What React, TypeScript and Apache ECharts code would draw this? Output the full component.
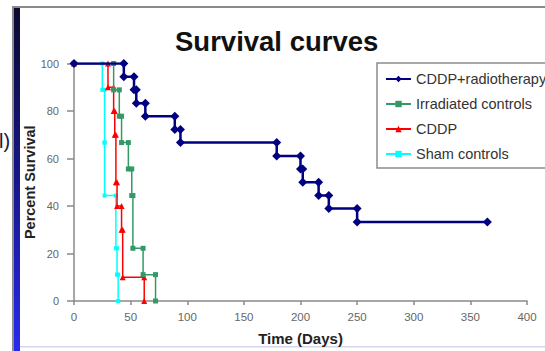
import React, { useEffect, useRef } from "react";
import * as echarts from "echarts";

const chartTitle = "Survival curves";
const xAxisName = "Time (Days)";
const yAxisName = "Percent Survival";
const xTicks = [0, 50, 100, 150, 200, 250, 300, 350, 400];
const yTicks = [0, 20, 40, 60, 80, 100];

const seriesNames = ["CDDP+radiotherapy", "Irradiated controls", "CDDP", "Sham controls"];

// event times (days) and survival (%) after each event
const comboTimes = [44, 53, 55, 63, 89, 94, 179, 200, 202, 216, 225, 250];
const comboSurvival = [94.4, 88.9, 83.3, 77.8, 72.2, 66.7, 61.1, 55.6, 50.0, 44.4, 38.9, 33.3];
const comboLastFollowUp = 365;

const irradTimes = [35, 40, 42, 48, 51, 52, 61, 72];
const irradSurvival = [88.9, 77.8, 66.7, 55.6, 44.4, 22.2, 11.1, 0];

const cddpTimes = [30, 35, 36, 37, 38, 42, 43, 62];
const cddpSurvival = [90, 80, 70, 50, 40, 30, 10, 0];

const shamTimes = [25, 27, 27, 37, 38, 39];
const shamSurvival = [88.9, 66.7, 44.4, 22.2, 11.1, 0];

function steps(times: number[], surv: number[], end?: number) {
  const pts: number[][] = [[0, 100]];
  let prev = 100;
  times.forEach((t, i) => {
    pts.push([t, prev]);
    pts.push([t, surv[i]]);
    prev = surv[i];
  });
  if (end != null) pts.push([end, prev]);
  return pts;
}

const FONT = "'Liberation Sans', Arial, sans-serif";

export default function App() {
  const ref = useRef<HTMLDivElement>(null);
  useEffect(() => {
    if (!ref.current) return;
    const chart = echarts.init(ref.current, undefined, { renderer: "svg" });
    const mk = (name: string, data: number[][], color: string, width: number, symbol: string, size: number, z: number) => ({
      name,
      type: "line",
      data,
      symbol,
      symbolSize: size,
      showAllSymbol: true,
      z,
      lineStyle: { color, width },
      itemStyle: { color },
      emphasis: { disabled: true },
    });
    chart.setOption({
      animation: false,
      backgroundColor: "#ffffff",
      textStyle: { fontFamily: FONT },
      title: {
        text: chartTitle,
        left: 170,
        top: 22,
        textStyle: { fontFamily: FONT, fontSize: 27.5, fontWeight: "bold", color: "#111" },
      },
      grid: { left: 74, right: 18, top: 63.5, bottom: 49 },
      legend: {
        orient: "vertical",
        left: 377,
        top: 63,
        padding: [8, 40, 6, 8],
        itemWidth: 25,
        itemHeight: 8,
        itemGap: 9,
        borderColor: "#8c8c8c",
        borderWidth: 1.5,
        backgroundColor: "#ffffff",
        selectedMode: false,
        textStyle: { fontFamily: FONT, fontSize: 14.5, color: "#333", lineHeight: 16 },
        data: seriesNames,
      },
      xAxis: {
        type: "value",
        min: xTicks[0],
        max: xTicks[xTicks.length - 1],
        interval: xTicks[1] - xTicks[0],
        name: xAxisName,
        nameLocation: "middle",
        nameGap: 30,
        nameMoveOverlap: false,
        nameTextStyle: { fontFamily: FONT, fontSize: 15, fontWeight: "bold", color: "#222" },
        axisLine: { lineStyle: { color: "#8a8a8a", width: 1.5 } },
        axisTick: { show: true, length: 4, lineStyle: { color: "#8a8a8a", width: 1.5 } },
        axisLabel: { fontSize: 11.5, color: "#666", margin: 10, fontFamily: FONT },
        splitLine: { show: false },
      },
      yAxis: {
        type: "value",
        min: yTicks[0],
        max: yTicks[yTicks.length - 1],
        interval: yTicks[1] - yTicks[0],
        name: yAxisName,
        nameLocation: "middle",
        nameGap: 37,
        nameMoveOverlap: false,
        nameTextStyle: { fontFamily: FONT, fontSize: 14.5, fontWeight: "bold", color: "#222" },
        axisLine: { show: true, lineStyle: { color: "#8a8a8a", width: 1.5 } },
        axisTick: { show: true, length: 7, lineStyle: { color: "#8a8a8a", width: 1.5 } },
        axisLabel: { fontSize: 11, color: "#666", margin: 15, fontFamily: FONT },
        splitLine: { show: false },
      },
      graphic: [
        { type: "rect", shape: { x: 12, y: 6, width: 533, height: 2 }, style: { fill: "#8a8a8a" }, silent: true },
        { type: "rect", shape: { x: 12, y: 6, width: 2, height: 345 }, style: { fill: "#8a8a8a" }, silent: true },
        {
          type: "rect",
          shape: { x: 14, y: 8, width: 6, height: 343 },
          style: {
            fill: new echarts.graphic.LinearGradient(0, 0, 0, 1, [
              { offset: 0, color: "#0a0a30" },
              { offset: 0.5, color: "#16168a" },
              { offset: 1, color: "#2a2aee" },
            ]),
          },
          silent: true,
        },
        { type: "rect", shape: { x: 20, y: 346, width: 525, height: 1.5 }, style: { fill: "#d6d6ee" }, silent: true },
        {
          type: "text",
          x: -1,
          y: 131,
          style: { text: "l)", fontFamily: FONT, fontSize: 20, fill: "#1a1a30" },
          silent: true,
        },
      ],
      series: [
        mk(seriesNames[3], steps(shamTimes, shamSurvival), "#00ffff", 1.5, "rect", 4, 2),
        mk(seriesNames[2], steps(cddpTimes, cddpSurvival), "#ff0000", 1.5, "triangle", 6, 3),
        mk(seriesNames[1], steps(irradTimes, irradSurvival), "#339966", 1.5, "rect", 5, 4),
        mk(seriesNames[0], steps(comboTimes, comboSurvival, comboLastFollowUp), "#000080", 2.5, "diamond", 9, 5),
      ],
    });
    return () => chart.dispose();
  }, []);
  return (
    <div
      ref={ref}
      style={{ position: "absolute", left: 0, top: 0, width: 545, height: 351, background: "#fff" }}
    />
  );
}
